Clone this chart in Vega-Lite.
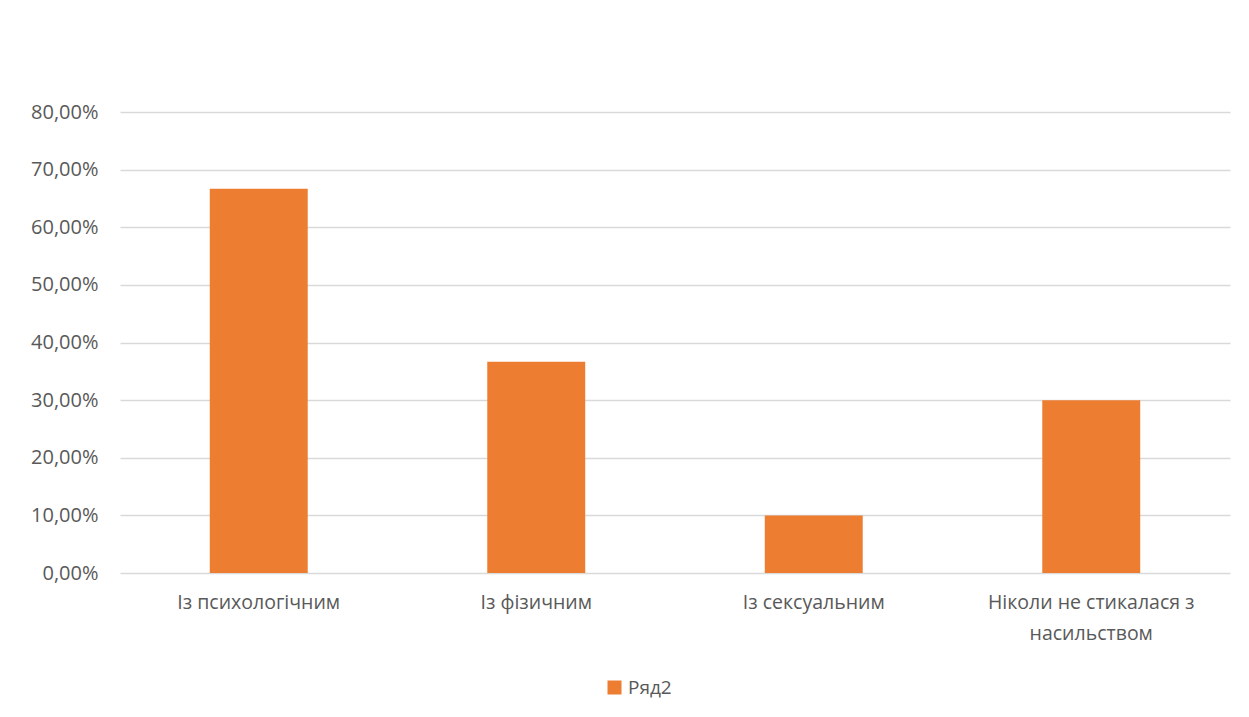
{
  "$schema": "https://vega.github.io/schema/vega-lite/v6.json",
  "autosize": {"type": "none"},
  "width": 1110,
  "height": 461,
  "padding": {"left": 120, "top": 112, "right": 19, "bottom": 144},
  "background": "white",
  "data": {"values": [
    {"category": "Із психологічним", "value": 0.6667, "series": "Ряд2"},
    {"category": "Із фізичним", "value": 0.3667, "series": "Ряд2"},
    {"category": "Із сексуальним", "value": 0.10, "series": "Ряд2"},
    {"category": "Ніколи не стикалася з насильством", "value": 0.30, "series": "Ряд2"}
  ]},
  "mark": {"type": "bar"},
  "encoding": {
    "x": {
      "field": "category", "type": "nominal", "sort": null,
      "scale": {"paddingInner": 0.647, "paddingOuter": 0.3235},
      "axis": {
        "title": null, "labelAngle": 0, "domain": false, "ticks": false,
        "labelFont": "Open Sans", "labelFontSize": 19.5, "labelColor": "#595959",
        "labelPadding": 20, "labelLineHeight": 31, "labelLimit": 300,
        "labelExpr": "datum.label == 'Ніколи не стикалася з насильством' ? ['Ніколи не стикалася з', 'насильством'] : datum.label"
      }
    },
    "y": {
      "field": "value", "type": "quantitative",
      "scale": {"domain": [0, 0.8], "nice": false},
      "axis": {
        "title": null, "format": ".2%", "values": [0, 0.1, 0.2, 0.3, 0.4, 0.5, 0.6, 0.7, 0.8],
        "labelOverlap": false,
        "labelExpr": "replace(datum.label, '.', ',')",
        "domain": false, "ticks": false, "gridColor": "#D9D9D9", "gridWidth": 1.3,
        "labelFont": "Open Sans", "labelFontSize": 20, "labelColor": "#595959",
        "labelPadding": 22
      }
    },
    "color": {
      "field": "series", "type": "nominal",
      "scale": {"domain": ["Ряд2"], "range": ["#ED7D31"]},
      "legend": {
        "title": null, "orient": "none", "direction": "horizontal",
        "legendX": 485, "legendY": 566,
        "symbolType": "square", "symbolSize": 196, "symbolStrokeWidth": 0,
        "labelFont": "Open Sans", "labelFontSize": 19, "labelColor": "#595959"
      }
    }
  },
  "config": {
    "view": {"stroke": null}
  }
}
